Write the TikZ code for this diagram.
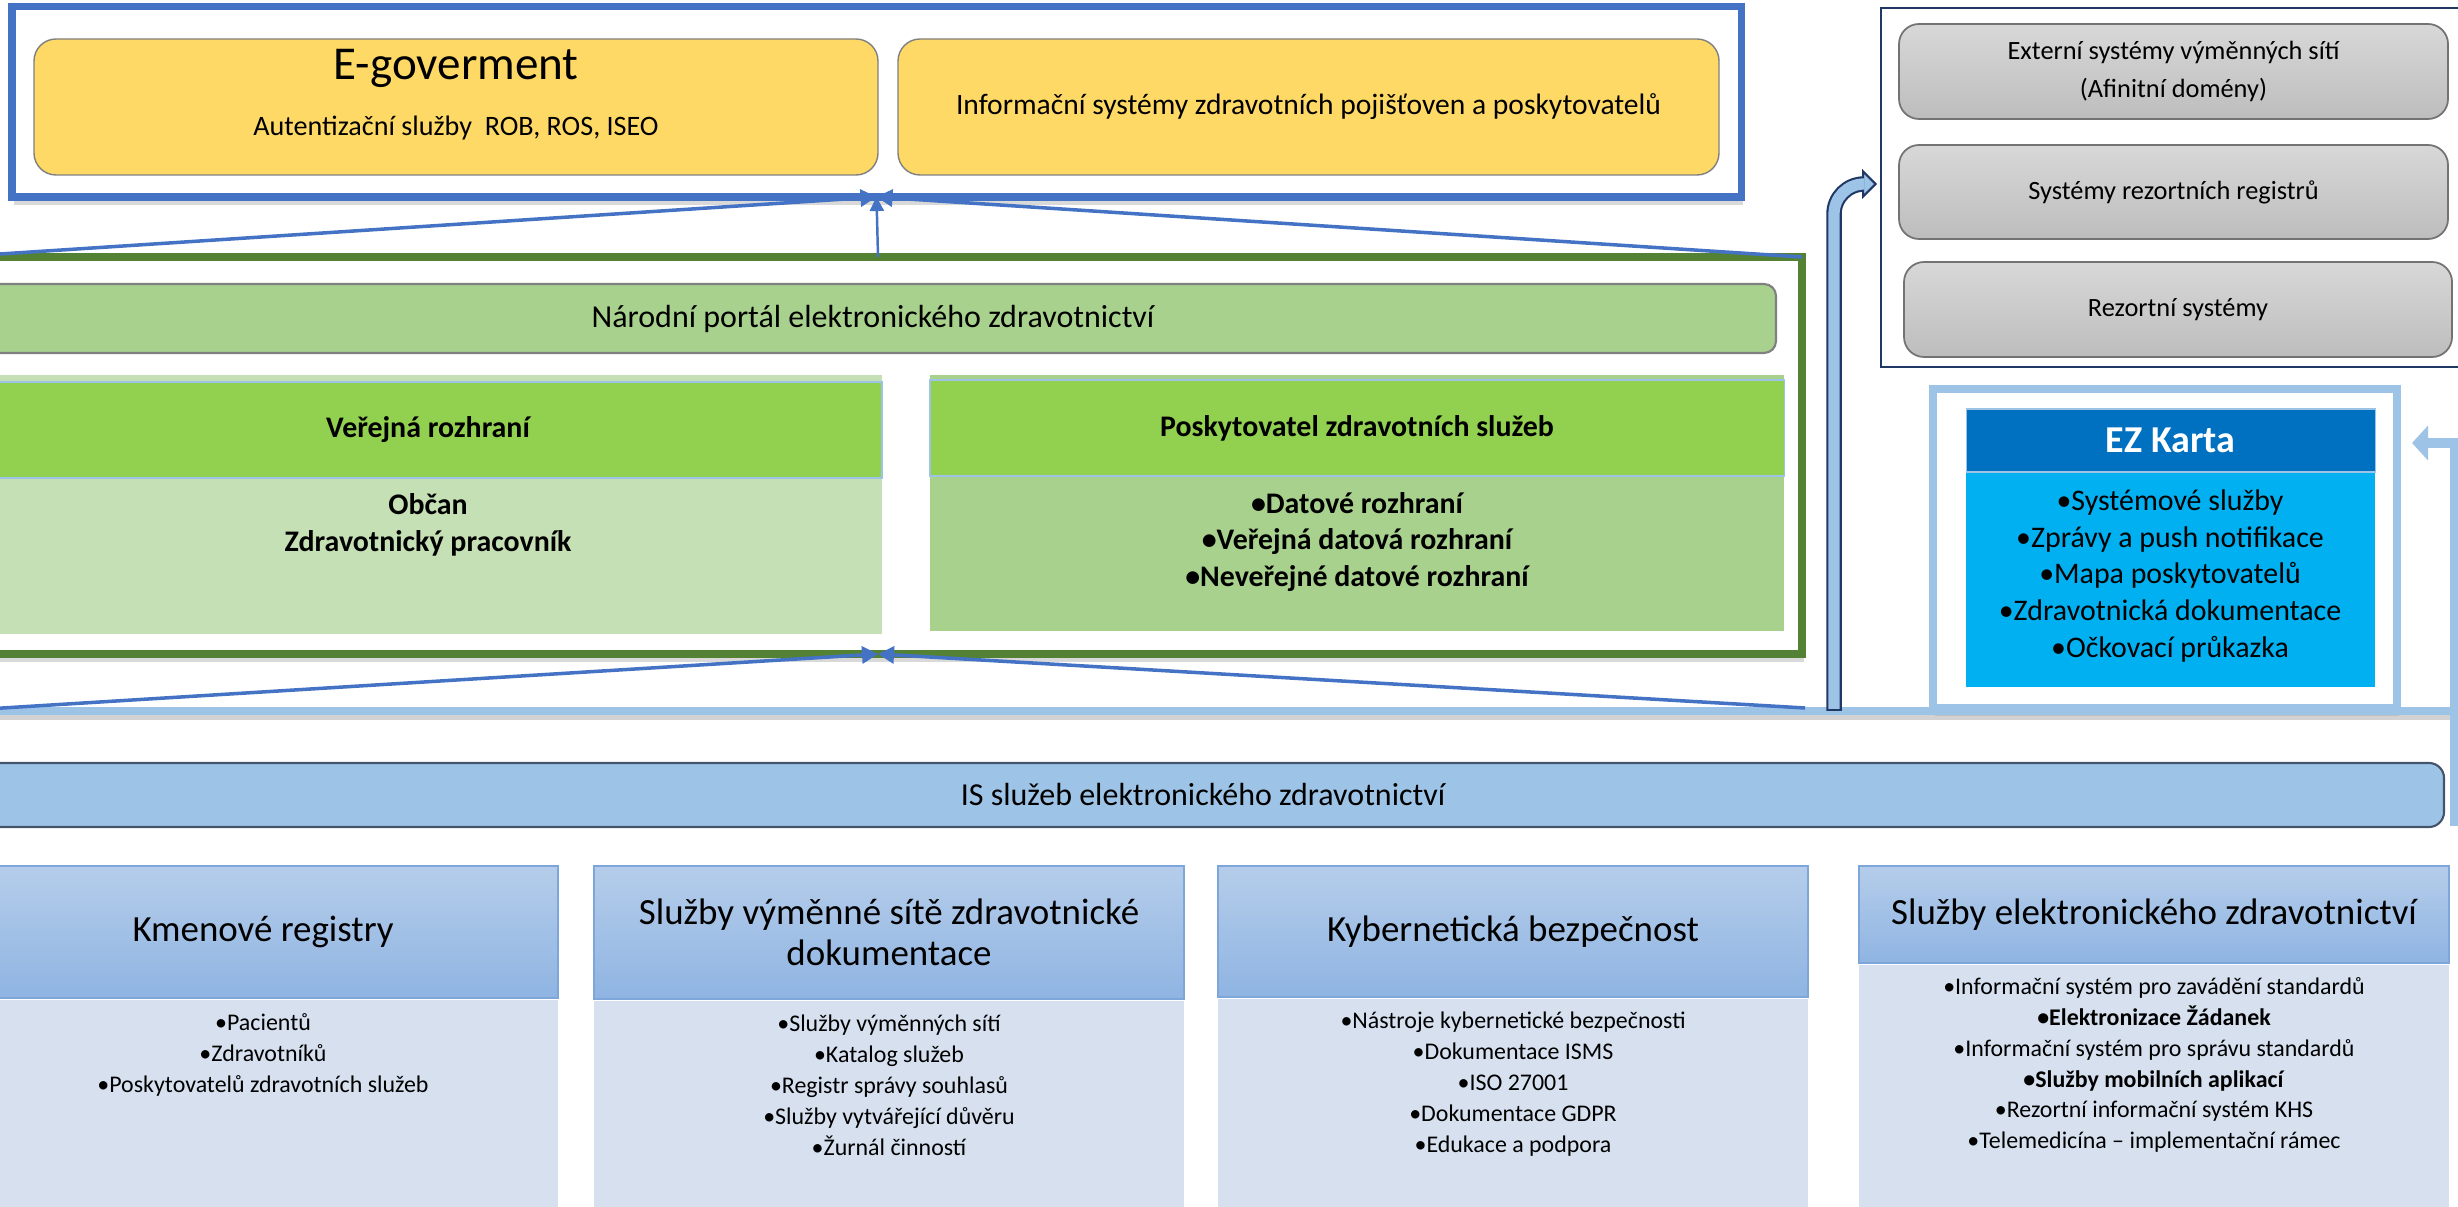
\documentclass[tikz,border=0pt]{standalone}
\usepackage{fontspec}
\setmainfont{Carlito}
\usepackage{tikz}
\usetikzlibrary{positioning, fit, calc, arrows.meta, shadows}

\definecolor{govblue}{HTML}{4472C4}
\definecolor{govyellow}{HTML}{FFD966}
\definecolor{navyline}{HTML}{203864}
\definecolor{portalgreen}{HTML}{548235}
\definecolor{barlime}{HTML}{92D050}
\definecolor{greenmid}{HTML}{A9D18E}
\definecolor{greenpale}{HTML}{C5E0B4}
\definecolor{skyline}{HTML}{9DC3E6}
\definecolor{ezdark}{HTML}{0070C0}
\definecolor{ezcyan}{HTML}{00B0F0}
\definecolor{coltop}{HTML}{B5CDEA}
\definecolor{colbot}{HTML}{8FB4E2}
\definecolor{colpale}{HTML}{D6E0EF}
\definecolor{coledge}{HTML}{7EA6DA}
\definecolor{graytop}{HTML}{D8D8D8}
\definecolor{graybot}{HTML}{BDBDBD}
\definecolor{isedge}{HTML}{44546A}

\begin{document}
\begin{tikzpicture}[x=0.01cm, y=-0.01cm,
    every node/.style={inner sep=0pt, outer sep=0pt, align=center},
    softshadow/.style={drop shadow={shadow xshift=0.02cm, shadow yshift=-0.08cm, opacity=0.25, fill=black!60}},
    govframe/.style={draw=govblue, line width=2pt, fill=white, softshadow},
    yellowbox/.style={fill=govyellow, draw=black!50, line width=0.4pt, rounded corners=0.22cm},
    sysframe/.style={draw=navyline, line width=0.7pt, fill=white},
    graybox/.style={top color=graytop, bottom color=graybot, draw=black!55, line width=0.5pt, rounded corners=0.2cm},
    graytext/.style={font=\fontsize{7.5}{10.8}\selectfont},
    portalframe/.style={draw=portalgreen, line width=2.3pt, fill=white, softshadow},
    portalbar/.style={fill=greenmid, draw=black!50, line width=0.6pt, rounded corners=0.12cm},
    bartext/.style={font=\fontsize{9.1}{11}\selectfont},
    limehead/.style={fill=barlime, draw=skyline, line width=0.3pt},
    limetext/.style={font=\fontsize{8.5}{10}\selectfont\bfseries},
    midtext/.style={font=\fontsize{8.5}{10.5}\selectfont\bfseries},
    ezframe/.style={draw=skyline, line width=2.5pt, fill=white, softshadow},
    ezhead/.style={fill=ezdark, draw=skyline, line width=0.3pt},
    eztitle/.style={text=white, font=\fontsize{10.8}{12}\selectfont\bfseries},
    ezbody/.style={fill=ezcyan},
    eztext/.style={font=\fontsize{8.5}{10.5}\selectfont},
    isbar/.style={fill=skyline, draw=isedge, line width=0.6pt, rounded corners=0.15cm},
    colhead/.style={top color=coltop, bottom color=colbot, draw=coledge, line width=0.4pt},
    coltitle/.style={font=\fontsize{10.5}{11.7}\selectfont},
    colbody/.style={fill=colpale},
    itemtext/.style={font=\fontsize{6.8}{8.8}\selectfont},
    fan/.style={draw=govblue, line width=1pt, -{Triangle[length=0.16cm, width=0.17cm]}}
  ]
  \useasboundingbox (0,0) rectangle (2458,1207);
  \clip (0,0) rectangle (2458,1207);

  % e-government layer
  \node[govframe, fit={(12,6.5) (1741,197)}] (gov) {};
  \node[yellowbox, fit={(34,39) (878,175)}] (egov) {};
  \node[font=\fontsize{13.4}{15}\selectfont] (egovtitle) at (456,68) {E-goverment};
  \node[font=\fontsize{8}{10}\selectfont] (egovauth) at (456,128) {Autentizační služby\ \ ROB, ROS, ISEO};
  \node[yellowbox, fit={(898,39) (1719,175)}] (insur) {};
  \node[font=\fontsize{8.4}{10}\selectfont] (insurtext) at (insur) {Informační systémy zdravotních pojišťoven a poskytovatelů};

  % resort systems
  \node[sysframe, fit={(1881,8) (2480,367)}] (resort) {};
  \node[graybox, fit={(1899,24) (2448,119)}] (ext) {};
  \node[graybox, fit={(1899,145) (2448,239)}] (reg) {};
  \node[graybox, fit={(1904,262) (2452,357)}] (rezsys) {};
  \node[graytext] (exttext) at (ext) {Externí systémy výměnných sítí\\(Afinitní domény)};
  \node[graytext] (regtext) at (reg) {Systémy rezortních registrů};
  \node[graytext] (rezsystext) at (rezsys) {Rezortní systémy};

  % portal layer
  \node[portalframe, fit={(-46,257) (1802,654)}] (portal) {};
  \node[portalbar, fit={(-30,284) (1776,353)}] (npez) {};
  \node[bartext] (npeztext) at (npez) {Národní portál elektronického zdravotnictví};
  \node[fill=greenpale, fit={(-26,375) (882,634)}] (pubbody) {};
  \node[limehead, fit={(-26,382) (882,478)}] (pubhead) {};
  \node[limetext] (pubtitle) at (pubhead) {Veřejná rozhraní};
  \node[midtext] (pubitems) at (428,525) {Občan\\Zdravotnický pracovník};
  \node[fill=greenmid, fit={(930,375) (1784,631)}] (provbody) {};
  \node[limehead, fit={(930,380) (1784,476)}] (provhead) {};
  \node[limetext] (provtitle) at (provhead) {Poskytovatel zdravotních služeb};
  \node[midtext] (provitems) at (1357,542) {•Datové rozhraní\\•Veřejná datová rozhraní\\•Neveřejné datové rozhraní};

  % EZ karta
  \node[ezframe, fit={(1933,389) (2397,708)}] (ezcard) {};
  \node[ezbody, fit={(1966,472) (2375,687)}] (ezlist) {};
  \node[ezhead, fit={(1966,409) (2375,472)}] (ezhead) {};
  \node[eztitle] (eztitletext) at (ezhead) {EZ Karta};
  \node[eztext] (ezitems) at (2170,576) {•Systémové služby\\•Zprávy a push notifikace\\•Mapa poskytovatelů\\•Zdravotnická dokumentace\\•Očkovací průkazka};

  % top edge of the IS layer
  \coordinate (skyW) at (-46,711);
  \coordinate (skyE) at (2455,711);
  \draw[black!35, line width=2pt, opacity=.5] ([yshift=-0.05cm]skyW) -- ([yshift=-0.05cm]skyE);
  \draw[skyline, line width=2pt] (skyW) -- (skyE);

  \node[isbar, fit={(-38,763) (2444,827)}] (isez) {};
  \node[bartext] (iseztext) at (isez) {IS služeb elektronického zdravotnictví};

  % service columns
  \foreach \cn/\cx/\cb/\cy/\chead/\clist in {
    kmen/-32/998/1055/{Kmenové registry}/{•Pacientů\\•Zdravotníků\\•Poskytovatelů zdravotních služeb},
    sit/594/999/1085/{Služby výměnné sítě zdravotnické\\dokumentace}/{•Služby výměnných sítí\\•Katalog služeb\\•Registr správy souhlasů\\•Služby vytvářející důvěru\\•Žurnál činností},
    kyber/1218/997/1084/{Kybernetická bezpečnost}/{•Nástroje kybernetické bezpečnosti\\•Dokumentace ISMS\\•ISO 27001\\•Dokumentace GDPR\\•Edukace a podpora},
    ezsl/1859/963/1065/{Služby elektronického zdravotnictví}/{•Informační systém pro zavádění standardů\\\textbf{•Elektronizace Žádanek}\\•Informační systém pro správu standardů\\\textbf{•Služby mobilních aplikací}\\•Rezortní informační systém KHS\\•Telemedicína – implementační rámec}%
  }{
    \node[colbody, fit={(\cx,\cb+2) (\cx+590,1215)}] (\cn body) {};
    \node[colhead, fit={(\cx,866) (\cx+590,\cb)}] (\cn head) {};
    \node[coltitle] (\cn title) at (\cn head) {\chead};
    \node[itemtext] (\cn items) at (\cx+295,\cy) {\clist};
  }

  % connectors
  \draw[fan] (portal.north west) -- (gov.south);
  \draw[fan] (portal.north east) -- (gov.south);
  \draw[govblue, line width=0.7pt, -{Triangle[length=0.14cm, width=0.14cm]}] (portal.north) -- (gov.south);
  \coordinate (fanR) at (1805,708);
  \draw[fan] (skyW) -- (portal.south);
  \draw[fan] (fanR) -- (portal.south);

  \coordinate (bendfoot) at (1834,711);
  \coordinate (bendtip) at (1877,184);
  \draw[navyline, line width=4.4pt, rounded corners=0.3cm, -{Triangle[length=0.15cm, width=0.3cm, fill=skyline, line width=0.6pt]}] (bendfoot) |- (bendtip);
  \draw[skyline, line width=3.2pt, rounded corners=0.3cm, shorten >=0.13cm, shorten <=0.02cm] (bendfoot) |- (bendtip);

  \coordinate (ezfeed) at (2455,826);
  \coordinate (eztip) at (2412,443);
  \draw[skyline, line width=2.6pt, -{Triangle[length=0.16cm, width=0.34cm]}] (ezfeed) |- (eztip);
\end{tikzpicture}
\end{document}
